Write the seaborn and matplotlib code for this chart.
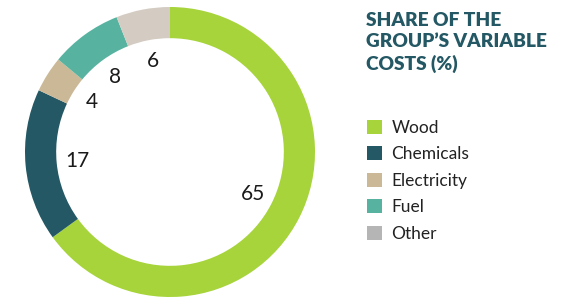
import matplotlib
matplotlib.use("Agg")
import matplotlib.pyplot as plt
from matplotlib.patches import Patch
import seaborn as sns

# Data
categories = ["Wood", "Chemicals", "Electricity", "Fuel", "Other"]
shares = [65, 17, 4, 8, 6]
ring_colors = ["#a6d43a", "#235864", "#cbb896", "#57b3a0", "#d4ccc2"]
legend_colors = ["#a6d43a", "#235864", "#cbb896", "#57b3a0", "#b5b5b5"]
title = "SHARE OF THE\nGROUP’S VARIABLE\nCOSTS (%)"

sns.set_theme(style="white")
plt.rcParams["font.family"] = ["Lato", "DejaVu Sans"]

fig = plt.figure(figsize=(5.72, 2.97), dpi=100)
ax = fig.add_axes([25 / 572, 0.0, 290 / 572, 290 / 297])

wedges, texts = ax.pie(
    shares,
    labels=[str(v) for v in shares],
    colors=sns.color_palette(ring_colors),
    startangle=90,
    counterclock=False,
    radius=1.0,
    labeldistance=0.64,
    wedgeprops=dict(width=0.215, linewidth=0),
    textprops=dict(fontsize=15, color="#1a1a1a", ha="center", va="center"),
)
ax.set_xlim(-1, 1)
ax.set_ylim(-1, 1)
ax.set_aspect("equal")
ax.axis("off")

fig.text(366 / 572, 1 - 12 / 297, title, ha="left", va="top",
         fontsize=13.8, fontweight="heavy", color="#235864", linespacing=1.3)

handles = [Patch(facecolor=c, edgecolor="none", label=l)
           for c, l in zip(legend_colors, categories)]
fig.legend(handles=handles, loc="upper left",
           bbox_to_anchor=(360 / 572, 1 - 113 / 297),
           frameon=False, fontsize=12.5, handlelength=0.85, handleheight=0.85,
           handletextpad=0.55, labelspacing=0.6, borderaxespad=0,
           labelcolor="#222222")

fig.savefig("out.png", dpi=100)
